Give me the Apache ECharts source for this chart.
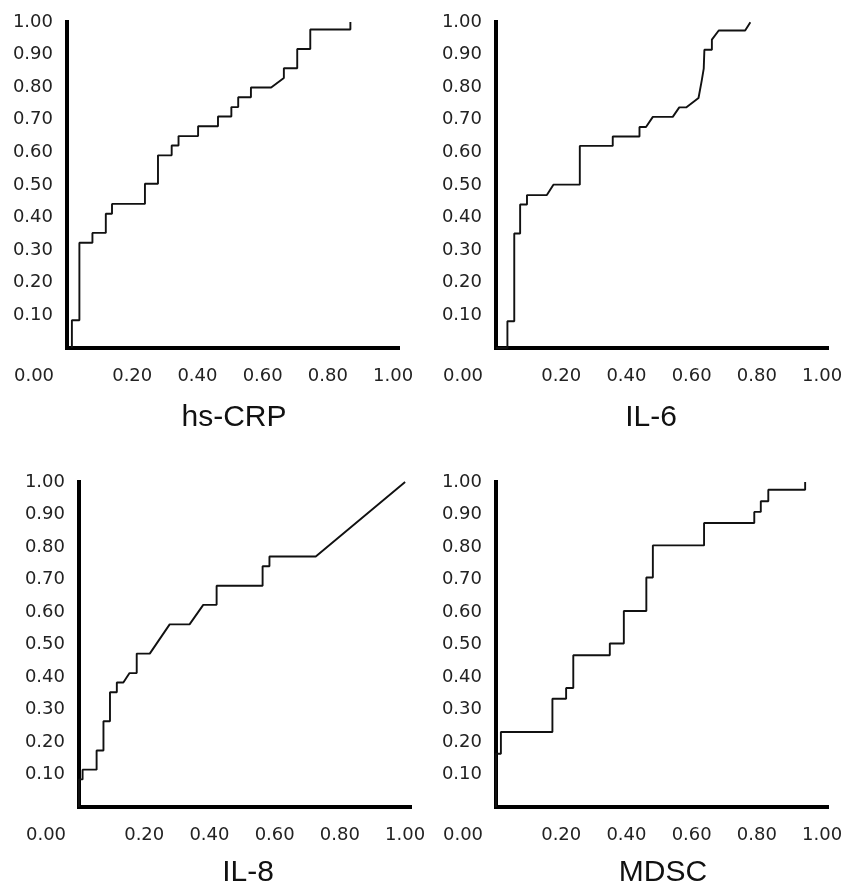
<!DOCTYPE html>
<html>
<head>
<meta charset="utf-8">
<script src="https://cdn.jsdelivr.net/npm/echarts@6/dist/echarts.min.js"></script>
<style>
html,body{margin:0;padding:0;background:#fff;}
#chart{width:856px;height:890px;}
</style>
</head>
<body>
<div id="chart"></div>
<script>
// ---- data ----
const panelTitles = ["hs-CRP", "IL-6", "IL-8", "MDSC"];
const xTickLabels = ["0.00", "0.20", "0.40", "0.60", "0.80", "1.00"];
const yTickLabels = ["0.10", "0.20", "0.30", "0.40", "0.50", "0.60", "0.70", "0.80", "0.90", "1.00"];

const hsCrpFpr = [0.015,0.015,0.038,0.038,0.078,0.078,0.119,0.119,0.138,0.138,0.239,0.239,0.279,0.279,0.321,0.321,0.342,0.342,0.402,0.402,0.463,0.463,0.504,0.504,0.525,0.525,0.564,0.564,0.626,0.665,0.665,0.706,0.706,0.746,0.746,0.869,0.869];
const hsCrpTpr = [0,0.085,0.085,0.323,0.323,0.353,0.353,0.412,0.412,0.442,0.442,0.504,0.504,0.591,0.591,0.621,0.621,0.650,0.650,0.680,0.680,0.710,0.710,0.739,0.739,0.769,0.769,0.799,0.799,0.828,0.858,0.858,0.917,0.917,0.977,0.977,1.0];

const il6Fpr = [0,0.035,0.035,0.056,0.056,0.074,0.074,0.095,0.095,0.156,0.176,0.257,0.257,0.358,0.358,0.440,0.440,0.460,0.481,0.542,0.562,0.583,0.621,0.631,0.637,0.639,0.639,0.662,0.662,0.683,0.764,0.780];
const il6Tpr = [0,0,0.082,0.082,0.351,0.351,0.440,0.440,0.469,0.469,0.501,0.501,0.620,0.620,0.649,0.649,0.678,0.678,0.709,0.709,0.738,0.738,0.767,0.821,0.857,0.857,0.915,0.915,0.946,0.974,0.974,0.999];

const il8Fpr = [0,0,0.011,0.011,0.054,0.054,0.075,0.075,0.095,0.095,0.116,0.116,0.136,0.155,0.177,0.177,0.217,0.278,0.339,0.381,0.422,0.422,0.563,0.563,0.584,0.584,0.726,1.0];
const il8Tpr = [0,0.085,0.085,0.115,0.115,0.174,0.174,0.264,0.264,0.353,0.353,0.383,0.383,0.412,0.412,0.472,0.472,0.562,0.562,0.622,0.622,0.681,0.681,0.741,0.741,0.771,0.771,1.0];

const mdscFpr = [0,0,0.015,0.015,0.173,0.173,0.215,0.215,0.237,0.237,0.349,0.349,0.392,0.392,0.461,0.461,0.481,0.481,0.638,0.638,0.792,0.792,0.812,0.812,0.835,0.835,0.948,0.948];
const mdscTpr = [0,0.164,0.164,0.231,0.231,0.333,0.333,0.366,0.366,0.467,0.467,0.503,0.503,0.603,0.603,0.706,0.706,0.805,0.805,0.874,0.874,0.908,0.908,0.941,0.941,0.976,0.976,1.0];

const seriesX = [hsCrpFpr, il6Fpr, il8Fpr, mdscFpr];
const seriesY = [hsCrpTpr, il6Tpr, il8Tpr, mdscTpr];

// ---- layout ----
const grids = [
  {left: 67, top: 22, width: 331, height: 326},
  {left: 496, top: 22, width: 331, height: 326},
  {left: 79, top: 482, width: 331, height: 325},
  {left: 496, top: 482, width: 331, height: 325}
];
const titlePos = [
  {x: 234, y: 403}, {x: 651, y: 403}, {x: 248, y: 858}, {x: 663, y: 858}
];

const labelFont = {fontFamily: "DejaVu Sans", fontSize: 18, color: "#222"};
const axisLineStyle = {color: "#000", width: 4, cap: "square"};

function xFmt(v) {
  const idx = Math.round(v * 5);
  if (Math.abs(v * 5 - idx) > 1e-6) return "";
  if (idx === 0) return "{z|" + xTickLabels[0] + "}";
  return xTickLabels[idx];
}
function yFmt(v) {
  const idx = Math.round(v * 10);
  if (Math.abs(v * 10 - idx) > 1e-6 || idx === 0) return "";
  return yTickLabels[idx - 1];
}

const option = {
  animation: false,
  backgroundColor: "#fff",
  title: panelTitles.map((t, i) => ({
    text: t,
    left: titlePos[i].x,
    top: titlePos[i].y,
    textAlign: "center",
    padding: 0,
    textStyle: {fontFamily: "Liberation Sans", fontSize: 30, fontWeight: "normal", color: "#111"}
  })),
  grid: grids,
  xAxis: grids.map((g, i) => ({
    type: "value", gridIndex: i, min: 0, max: 1.015, interval: 0.2,
    axisLine: {show: true, onZero: false, lineStyle: axisLineStyle},
    axisTick: {show: false},
    splitLine: {show: false},
    axisLabel: Object.assign({
      margin: 19,
      formatter: xFmt,
      rich: {z: Object.assign({padding: [0, 66, 0, 0]}, labelFont)}
    }, labelFont)
  })),
  yAxis: grids.map((g, i) => ({
    type: "value", gridIndex: i, min: 0, max: 1, interval: 0.1,
    axisLine: {show: true, onZero: false, lineStyle: axisLineStyle},
    axisTick: {show: false},
    splitLine: {show: false},
    axisLabel: Object.assign({margin: 14, formatter: yFmt, padding: [0, 0, 4, 0]}, labelFont)
  })),
  series: seriesX.map((xs, i) => ({
    type: "line",
    xAxisIndex: i, yAxisIndex: i,
    showSymbol: false,
    symbol: "none",
    lineStyle: {color: "#111", width: 1.9},
    data: xs.map((x, k) => [x, seriesY[i][k]]),
    z: 1
  }))
};

const chart = echarts.init(document.getElementById("chart"), null, {renderer: "canvas"});
chart.setOption(option);
</script>
</body>
</html>
